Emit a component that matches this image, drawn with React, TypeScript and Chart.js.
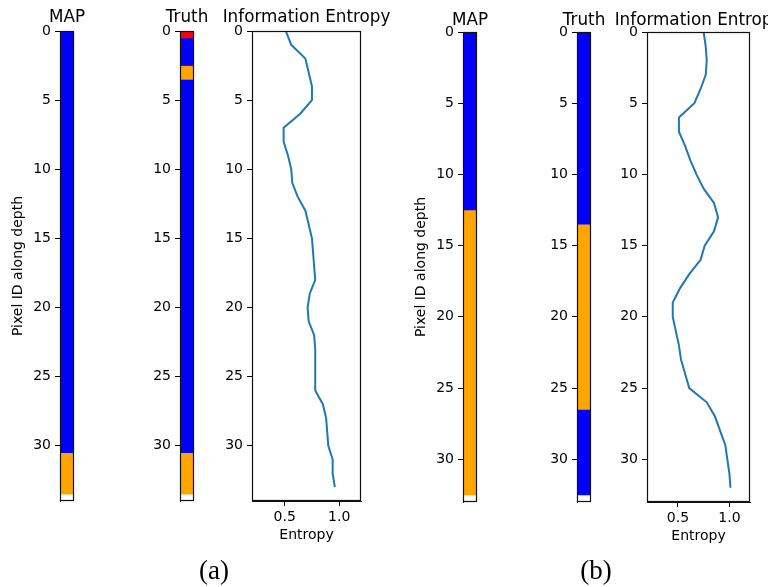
import React, { useEffect, useRef } from "react";
import { Chart, registerables } from "chart.js";

Chart.register(...registerables);

const FONT = "'DejaVu Sans', sans-serif";
Chart.defaults.font.family = FONT;

// class id per pixel row: 0 = blue, 1 = orange, 2 = red
const CLASS_COLORS = ["#0000ff", "#ffa500", "#ff0000"];
const LINE_COLOR = "#1f77b4";

// ---------- panel (a): 34 pixels along depth ----------
const mapA = [
  0, 0, 0, 0, 0, 0, 0, 0, 0, 0, 0, 0, 0, 0, 0, 0, 0, 0, 0, 0, 0, 0, 0, 0, 0, 0, 0, 0, 0, 0, 0,
  1, 1, 1,
];
const truthA = [
  2, 0, 0, 1,
  0, 0, 0, 0, 0, 0, 0, 0, 0, 0, 0, 0, 0, 0, 0, 0, 0, 0, 0, 0, 0, 0, 0, 0, 0, 0, 0,
  1, 1, 1,
];
const entropyA = [
  0.51, 0.56, 0.69, 0.72, 0.75, 0.75, 0.64, 0.49, 0.49, 0.53,
  0.56, 0.57, 0.62, 0.69, 0.72, 0.75, 0.76, 0.77, 0.78, 0.73,
  0.71, 0.72, 0.77, 0.78, 0.78, 0.78, 0.78, 0.85, 0.88, 0.89,
  0.90, 0.94, 0.94, 0.96,
];
const depthMaxA = 34;

// ---------- panel (b): 33 pixels along depth ----------
const mapB = [
  0, 0, 0, 0, 0, 0, 0, 0, 0, 0, 0, 0, 0,
  1, 1, 1, 1, 1, 1, 1, 1, 1, 1, 1, 1, 1, 1, 1, 1, 1, 1, 1, 1,
];
const truthB = [
  0, 0, 0, 0, 0, 0, 0, 0, 0, 0, 0, 0, 0, 0,
  1, 1, 1, 1, 1, 1, 1, 1, 1, 1, 1, 1, 1,
  0, 0, 0, 0, 0, 0,
];
const entropyB = [
  0.75, 0.77, 0.78, 0.77, 0.72, 0.66, 0.51, 0.51, 0.57, 0.62,
  0.68, 0.75, 0.85, 0.89, 0.85, 0.76, 0.72, 0.61, 0.52, 0.45,
  0.45, 0.48, 0.51, 0.53, 0.57, 0.61, 0.78, 0.86, 0.91, 0.96,
  0.98, 1.0, 1.01,
];
const depthMaxB = 33;

const depthTicks = [0, 5, 10, 15, 20, 25, 30];
const entropyTicks = [0.5, 1.0];
const entropyMin = 0.2;
const entropyMax = 1.2;

const Y_AXIS_W = 60;
const X_AXIS_H = 43;
const CANVAS_H = 587;
const RIGHT_EXTRA = 45;
const TICK_SIZE = 14;
const TITLE_SIZE = 16.8;

type Box = { left: number; top: number; right: number; bottom: number };

const framePlugin = {
  id: "frame",
  afterDraw(chart: any) {
    const { left, top, right, bottom } = chart.chartArea;
    const ctx = chart.ctx;
    ctx.save();
    ctx.strokeStyle = "#111";
    ctx.lineWidth = 1.2;
    ctx.strokeRect(left + 0.5, top + 0.5, right - left - 1, bottom - top - 1);
    ctx.restore();
  },
};

const titlePlugin = {
  id: "panelTitle",
  afterDraw(chart: any, _args: any, opts: any) {
    if (!opts || !opts.text) return;
    const { left, right, top } = chart.chartArea;
    const ctx = chart.ctx;
    ctx.save();
    ctx.fillStyle = "#000";
    ctx.font = `${TITLE_SIZE}px ${FONT}`;
    ctx.textAlign = "center";
    ctx.textBaseline = "alphabetic";
    ctx.fillText(opts.text, (left + right) / 2, top - opts.offset);
    ctx.restore();
  },
};

function runs(labels: number[], ymax: number) {
  const out: { cls: number; start: number; end: number }[] = [];
  let i = 0;
  while (i < labels.length) {
    let j = i;
    while (j + 1 < labels.length && labels[j + 1] === labels[i]) j++;
    out.push({ cls: labels[i], start: Math.max(i - 0.5, 0), end: Math.min(j + 0.5, ymax) });
    i = j + 1;
  }
  return out;
}

function yScale(ymax: number, showTitle: boolean) {
  return {
    type: "linear",
    reverse: true,
    min: 0,
    max: ymax,
    afterBuildTicks: (s: any) => {
      s.ticks = depthTicks.map((v) => ({ value: v }));
    },
    afterFit: (s: any) => {
      s.width = Y_AXIS_W;
    },
    grid: {
      display: true,
      drawOnChartArea: false,
      drawTicks: true,
      tickLength: 5,
      color: "#000",
      tickColor: "#000",
      tickWidth: 1,
    },
    border: { display: true, color: "#111", width: 1 },
    ticks: {
      autoSkip: false,
      color: "#000",
      padding: 4,
      font: { family: FONT, size: TICK_SIZE },
      callback: (v: any) => String(v),
    },
    title: {
      display: showTitle,
      text: "Pixel ID along depth",
      color: "#000",
      font: { family: FONT, size: TICK_SIZE },
      padding: { top: 10, bottom: 0 },
    },
  };
}

type PanelProps = { box: Box; build: (box: Box) => any };

function ChartPanel({ box, build }: PanelProps) {
  const ref = useRef<HTMLCanvasElement | null>(null);
  const width = Y_AXIS_W + (box.right - box.left) + RIGHT_EXTRA;
  useEffect(() => {
    if (!ref.current) return;
    const chart = new Chart(ref.current, build(box));
    return () => chart.destroy();
  }, []);
  return (
    <canvas
      ref={ref}
      width={width}
      height={CANVAS_H}
      style={{
        position: "absolute",
        left: box.left - Y_AXIS_W,
        top: 0,
        width,
        height: CANVAS_H,
      }}
    />
  );
}

function stripConfig(labels: number[], ymax: number, title: string, titleOffset: number, showYTitle: boolean) {
  return (box: Box) => {
    const segs = runs(labels, ymax);
    return {
      type: "bar",
      data: {
        labels: [""],
        datasets: segs.map((s) => ({
          data: [[s.start, s.end]],
          backgroundColor: CLASS_COLORS[s.cls],
          borderWidth: 0,
          grouped: false,
          barPercentage: 1,
          categoryPercentage: 1,
        })),
      },
      options: {
        animation: false,
        responsive: false,
        devicePixelRatio: 1,
        layout: {
          padding: {
            left: 0,
            top: box.top,
            right: RIGHT_EXTRA,
            bottom: CANVAS_H - box.bottom,
          },
        },
        scales: {
          x: { type: "category", display: false, offset: true, grid: { display: false } },
          y: yScale(ymax, showYTitle),
        },
        plugins: {
          legend: { display: false },
          tooltip: { enabled: false },
          panelTitle: { text: title, offset: titleOffset },
        },
      },
      plugins: [framePlugin, titlePlugin],
    };
  };
}

function entropyConfig(values: number[], ymax: number, titleOffset: number) {
  return (box: Box) => ({
    type: "scatter",
    data: {
      datasets: [
        {
          data: values.map((e, i) => ({ x: e, y: i })),
          showLine: true,
          borderColor: LINE_COLOR,
          borderWidth: 2,
          pointRadius: 0,
          fill: false,
          tension: 0,
        },
      ],
    },
    options: {
      animation: false,
      responsive: false,
      devicePixelRatio: 1,
      layout: {
        padding: {
          left: 0,
          top: box.top,
          right: RIGHT_EXTRA,
          bottom: CANVAS_H - box.bottom - X_AXIS_H,
        },
      },
      scales: {
        x: {
          type: "linear",
          min: entropyMin,
          max: entropyMax,
          afterBuildTicks: (s: any) => {
            s.ticks = entropyTicks.map((v) => ({ value: v }));
          },
          afterFit: (s: any) => {
            s.height = X_AXIS_H;
          },
          grid: {
            display: true,
            drawOnChartArea: false,
            drawTicks: true,
            tickLength: 5,
            color: "#000",
            tickColor: "#000",
          },
          border: { display: true, color: "#111" },
          ticks: {
            autoSkip: false,
            maxRotation: 0,
            color: "#000",
            padding: 3,
            font: { family: FONT, size: TICK_SIZE },
            callback: (v: any) => Number(v).toFixed(1),
          },
          title: {
            display: true,
            text: "Entropy",
            color: "#000",
            font: { family: FONT, size: TICK_SIZE },
            padding: { top: 0, bottom: 0 },
          },
        },
        y: yScale(ymax, false),
      },
      plugins: {
        legend: { display: false },
        tooltip: { enabled: false },
        panelTitle: { text: "Information Entropy", offset: titleOffset },
      },
    },
    plugins: [framePlugin, titlePlugin],
  });
}

const boxes = {
  mapA: { left: 60, top: 31, right: 74, bottom: 501 },
  truthA: { left: 180, top: 31, right: 194, bottom: 501 },
  entA: { left: 252, top: 31, right: 361, bottom: 501 },
  mapB: { left: 463, top: 32, right: 477, bottom: 502 },
  truthB: { left: 577, top: 32, right: 591, bottom: 502 },
  entB: { left: 647, top: 32, right: 750, bottom: 502 },
};

const captionStyle: React.CSSProperties = {
  position: "absolute",
  top: 570,
  transform: "translate(-50%, -50%)",
  fontFamily: "'Liberation Serif', 'Times New Roman', serif",
  fontSize: 27,
  lineHeight: 1,
  color: "#000",
  whiteSpace: "nowrap",
};

export default function App() {
  return (
    <div
      style={{
        position: "fixed",
        left: 0,
        top: 0,
        width: 768,
        height: 587,
        overflow: "hidden",
        background: "#fff",
      }}
    >
      <ChartPanel box={boxes.mapA} build={stripConfig(mapA, depthMaxA, "MAP", 9, true)} />
      <ChartPanel box={boxes.truthA} build={stripConfig(truthA, depthMaxA, "Truth", 9, false)} />
      <ChartPanel box={boxes.entA} build={entropyConfig(entropyA, depthMaxA, 9)} />
      <ChartPanel box={boxes.mapB} build={stripConfig(mapB, depthMaxB, "MAP", 7, true)} />
      <ChartPanel box={boxes.truthB} build={stripConfig(truthB, depthMaxB, "Truth", 7, false)} />
      <ChartPanel box={boxes.entB} build={entropyConfig(entropyB, depthMaxB, 7)} />
      <div style={{ ...captionStyle, left: 214 }}>(a)</div>
      <div style={{ ...captionStyle, left: 596 }}>(b)</div>
    </div>
  );
}
